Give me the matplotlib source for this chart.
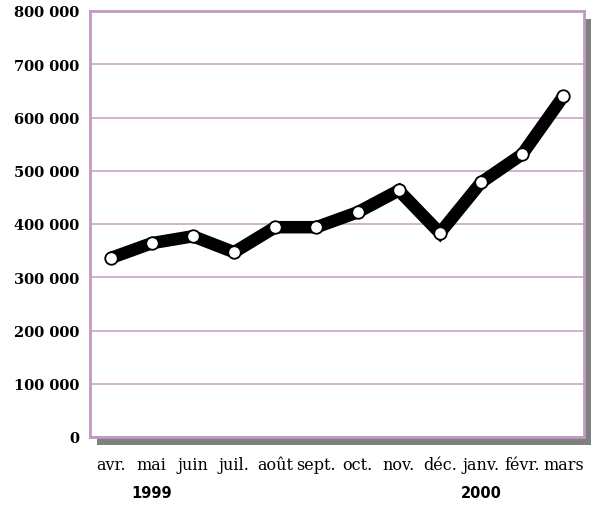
import matplotlib
matplotlib.use('Agg')
import matplotlib.pyplot as plt
from matplotlib.patches import Rectangle

# données
mois = ['avr.', 'mai', 'juin', 'juil.', 'août', 'sept.', 'oct.', 'nov.', 'déc.', 'janv.', 'févr.', 'mars']
valeurs = [336000, 364000, 377000, 347000, 394000, 394000, 422000, 463000, 383000, 478000, 531000, 640000]
annees = ['1999', '2000']
pos_annees = [1, 9]  # index du mois sous lequel est écrite l'année
yticks = [0, 100000, 200000, 300000, 400000, 500000, 600000, 700000, 800000]

W, H = 593, 506
fig = plt.figure(figsize=(W / 100, H / 100), dpi=100)
ax = fig.add_axes([90 / W, 68 / H, 494 / W, 426 / H])

# ombre grise derrière le cadre
dx, dy = 7 / W, 8 / H
pos = ax.get_position()
fig.patches.append(Rectangle((pos.x0 + dx, pos.y0 - dy), pos.width, pos.height,
                             transform=fig.transFigure, facecolor='#808080',
                             edgecolor='none', zorder=0))

x = [i + 0.5 for i in range(len(mois))]
ax.plot(x, valeurs, color='black', lw=9, solid_joinstyle='miter', solid_capstyle='butt', zorder=3)
ax.plot(x, valeurs, 'o', ms=9, mfc='white', mec='black', mew=1.3, zorder=4)

ax.set_xlim(0, 12)
ax.set_ylim(0, 800000)
ax.set_yticks(yticks)
ax.set_yticklabels([f'{v:,}'.replace(',', ' ') for v in yticks],
                   fontfamily='DejaVu Serif', fontweight='bold', fontsize=10.5)
ax.set_xticks(x)
ax.set_xticklabels(mois, fontfamily='DejaVu Serif', fontsize=11.5)
ax.tick_params(axis='both', length=0)
ax.tick_params(axis='y', pad=8)
ax.tick_params(axis='x', pad=14)

ax.grid(axis='y', color='#cfaacf', lw=1.3)
ax.set_axisbelow(True)
for s in ax.spines.values():
    s.set_color('#c09ac0')
    s.set_linewidth(2)
ax.set_facecolor('white')
ax.set_zorder(1)

for a, p in zip(annees, pos_annees):
    ax.text(x[p], -105000, a, ha='center', va='center', fontsize=10.5,
            fontweight='bold', fontfamily='DejaVu Sans')

fig.savefig('out.png', dpi=100)
